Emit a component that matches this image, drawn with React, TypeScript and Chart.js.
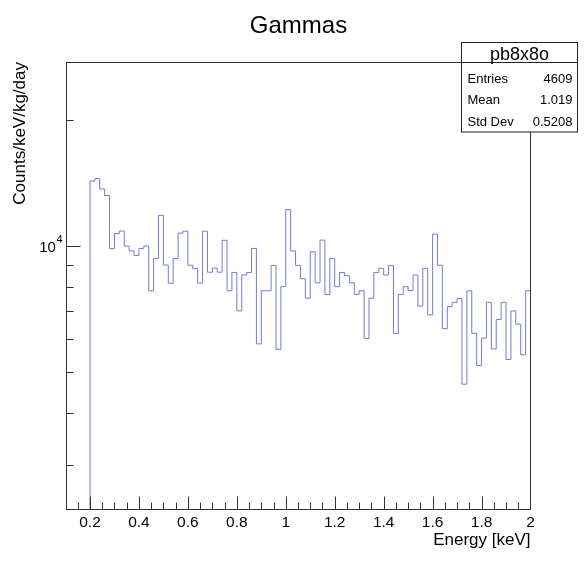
import { useEffect, useRef } from 'react';
import { Chart, registerables } from 'chart.js';

Chart.register(...registerables);

const chartTitle = 'Gammas';
const xAxisTitle = 'Energy [keV]';
const yAxisTitle = 'Counts/keV/kg/day';
const histName = 'pb8x8o';
const statLabels = ['Entries', 'Mean', 'Std Dev'];
const statValues = ['4609', '1.019', '0.5208'];

const binLow = 0.2;
const binWidth = 0.02;
const counts = [
  14290, 14490, 13680, 13200, 9860, 10710, 10860, 10000, 9740, 9490,
  9870, 10000, 7820, 9350, 11840, 9010, 8150, 9340, 10740, 10850,
  9000, 8830, 8160, 10850, 8660, 8860, 8660, 10320, 7820, 8650,
  7000, 8530, 8650, 9870, 5840, 7820, 7820, 8990, 5670, 8000,
  12220, 9730, 8990, 8360, 7510, 9690, 8170, 10330, 7660, 9340,
  8000, 8650, 8500, 8170, 7670, 7820, 6020, 7510, 8650, 8850,
  8530, 8980, 6190, 7660, 8000, 7830, 8530, 7190, 8850, 6850,
  10680, 9000, 6350, 7170, 7340, 7500, 4680, 7820, 6190, 5180,
  6030, 7340, 5680, 6680, 7340, 5360, 7000, 6510, 5500, 7820,
];

const xMin = 0.1;
const xMax = 2.0;
const yMin = 2344;
const yMax = 27500;
const xMajorStep = 0.2;
const xMinorStep = 0.05;
const yMajorTicks = [10000];
const yMajorLabels = [{ base: '10', exp: '4' }];
const yMinorTicks = [3000, 4000, 5000, 6000, 7000, 8000, 9000, 20000];

const FONT = "'Liberation Sans', Arial, Helvetica, sans-serif";
const LINE_COLOR = 'rgb(120,120,215)';
const FRAME_COLOR = '#333333';

function isMajorX(v: number) {
  const r = v / xMajorStep;
  return Math.abs(r - Math.round(r)) < 1e-6;
}

function xTickValues() {
  const out: number[] = [];
  const n = Math.round((xMax - xMin) / xMinorStep);
  for (let i = 0; i <= n; i++) out.push(Number((xMin + i * xMinorStep).toFixed(4)));
  return out;
}

const rootPlugin = {
  id: 'rootStyle',
  afterDatasetsDraw(chart: any) {
    const { ctx, chartArea: a, scales } = chart;
    const x = scales.x;
    const y = scales.y;
    const L = Math.round(a.left) + 0.5;
    const R = Math.round(a.right) - 0.5;
    const T = Math.round(a.top) + 0.5;
    const B = Math.round(a.bottom) - 0.5;
    ctx.save();
    ctx.strokeStyle = FRAME_COLOR;
    ctx.lineWidth = 1;
    ctx.strokeRect(L, T, R - L, B - T);
    ctx.beginPath();
    for (const v of xTickValues()) {
      const px = Math.round(x.getPixelForValue(v)) + 0.5;
      if (px <= L + 0.1 || px >= R - 0.1) continue;
      const len = isMajorX(v) ? 13 : 7;
      ctx.moveTo(px, B);
      ctx.lineTo(px, B - len);
    }
    for (const v of yMajorTicks) {
      const py = Math.round(y.getPixelForValue(v)) + 0.5;
      ctx.moveTo(L, py);
      ctx.lineTo(L + 14, py);
    }
    for (const v of yMinorTicks) {
      const py = Math.round(y.getPixelForValue(v)) + 0.5;
      ctx.moveTo(L, py);
      ctx.lineTo(L + 7, py);
    }
    ctx.stroke();
    // y major labels with superscript exponent
    ctx.fillStyle = '#000';
    yMajorTicks.forEach((v, i) => {
      const py = y.getPixelForValue(v);
      const lab = yMajorLabels[i];
      ctx.font = `11px ${FONT}`;
      const expW = ctx.measureText(lab.exp).width;
      const right = a.left - 3;
      ctx.textAlign = 'left';
      ctx.textBaseline = 'alphabetic';
      ctx.fillText(lab.exp, right - expW, py - 3);
      ctx.font = `15px ${FONT}`;
      ctx.textAlign = 'right';
      ctx.fillText(lab.base, right - expW - 0.5, py + 6);
    });
    ctx.restore();
  },
  afterDraw(chart: any) {
    const { ctx } = chart;
    ctx.save();
    ctx.fillStyle = '#000';
    ctx.font = `24px ${FONT}`;
    ctx.textAlign = 'center';
    ctx.textBaseline = 'alphabetic';
    ctx.fillText(chartTitle, 298.5, 33);
    const bx = 461.5, by = 42.5, bw = 116, bh = 89.5;
    ctx.fillStyle = '#fff';
    ctx.fillRect(bx, by, bw, bh);
    ctx.strokeStyle = '#222';
    ctx.lineWidth = 1;
    ctx.strokeRect(bx, by, bw, bh);
    ctx.beginPath();
    ctx.moveTo(bx, 62.5);
    ctx.lineTo(bx + bw, 62.5);
    ctx.stroke();
    ctx.fillStyle = '#000';
    ctx.font = `18px ${FONT}`;
    ctx.textAlign = 'center';
    ctx.fillText(histName, bx + bw / 2, 59.5);
    ctx.font = `13px ${FONT}`;
    const rowsY = [82.5, 104, 126];
    statLabels.forEach((lab, i) => {
      ctx.textAlign = 'left';
      ctx.fillText(lab, 467.5, rowsY[i]);
      ctx.textAlign = 'right';
      ctx.fillText(statValues[i], 572.5, rowsY[i]);
    });
    ctx.restore();
  },
};

export default function App() {
  const canvasRef = useRef<HTMLCanvasElement | null>(null);

  useEffect(() => {
    if (!canvasRef.current) return;
    const points: { x: number; y: number }[] = [{ x: binLow, y: yMin }];
    counts.forEach((c, i) => points.push({ x: binLow + i * binWidth, y: c }));
    points.push({ x: binLow + counts.length * binWidth, y: counts[counts.length - 1] });
    points.push({ x: binLow + counts.length * binWidth, y: yMin });

    Chart.defaults.font.family = FONT;
    const chart = new Chart(canvasRef.current, {
      type: 'line',
      data: {
        datasets: [
          {
            data: points,
            borderColor: LINE_COLOR,
            borderWidth: 1,
            pointRadius: 0,
            stepped: 'before',
            fill: false,
            tension: 0,
          },
        ],
      },
      options: {
        responsive: false,
        animation: false,
        devicePixelRatio: 1,
        layout: { padding: { top: 62, right: 54.5, left: 0, bottom: 0 } },
        plugins: { legend: { display: false }, tooltip: { enabled: false }, title: { display: false } },
        scales: {
          x: {
            type: 'linear',
            position: 'bottom',
            min: xMin,
            max: xMax,
            bounds: 'data',
            grid: { display: false, drawTicks: false },
            border: { display: false },
            afterBuildTicks: (scale: any) => {
              scale.ticks = xTickValues().map((v) => ({ value: v }));
            },
            afterFit: (scale: any) => {
              scale.height = 55;
            },
            ticks: {
              autoSkip: false,
              maxRotation: 0,
              padding: 3,
              color: '#000',
              font: { size: 15.5, family: FONT },
              callback: (v: any) => (isMajorX(Number(v)) ? String(Number(Number(v).toFixed(2))) : ''),
            },
            title: {
              display: true,
              text: xAxisTitle,
              align: 'end',
              color: '#000',
              font: { size: 17, family: FONT },
              padding: { top: 0, bottom: 14 },
            },
          },
          y: {
            type: 'logarithmic',
            position: 'left',
            min: yMin,
            max: yMax,
            bounds: 'data',
            grid: { display: false, drawTicks: false },
            border: { display: false },
            afterBuildTicks: (scale: any) => {
              scale.ticks = yMajorTicks.map((v) => ({ value: v, major: true }));
            },
            afterFit: (scale: any) => {
              scale.width = 65.5;
            },
            ticks: {
              display: false,
            },
            title: {
              display: true,
              text: yAxisTitle,
              align: 'end',
              color: '#000',
              font: { size: 17, family: FONT },
              padding: { top: 10, bottom: 0 },
            },
          },
        },
      },
      plugins: [rootPlugin],
    } as any);
    return () => chart.destroy();
  }, []);

  return (
    <div style={{ position: 'fixed', left: 0, top: 0, width: 585, height: 565, background: '#fff' }}>
      <canvas ref={canvasRef} width={585} height={565} style={{ display: 'block' }} />
    </div>
  );
}
